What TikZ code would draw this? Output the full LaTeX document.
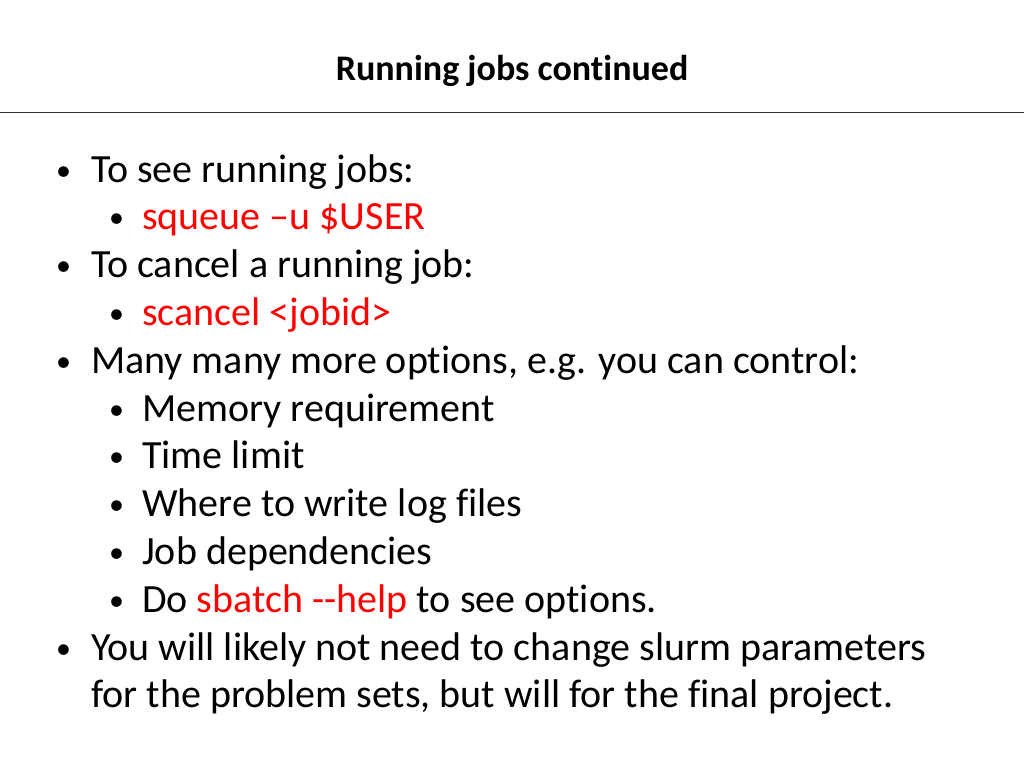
\documentclass[tikz,border=0pt]{standalone}
\usepackage{fontspec}
\setmainfont{Carlito}[Ligatures=NoCommon]
\definecolor{cmdred}{RGB}{255,0,0}
\tikzstyle{title}=[anchor=base,inner sep=0pt,font=\fontsize{36}{40}\selectfont\bfseries]
\tikzstyle{item} = [anchor=base west,inner sep=0pt,font=\fontsize{40}{46}\selectfont]
\tikzstyle{dot} = [anchor=base west,inner sep=0pt,font=\fontsize{30}{34}\selectfont]
\tikzstyle{cmd} = [item,text=cmdred]
\begin{document}
\begin{tikzpicture}[x=1pt,y=-1pt]
        \useasboundingbox (0,0) rectangle (1024,768);
        \node[title] (head) at (512, 80) {Running jobs continued};
        \draw[black!80,line width=0.8pt] (0,112) -- (1024,112);
        \node[dot] (b1) at (56, 180) {\textbullet};
        \node[item] (t1) at (91, 182) {To see running jobs:};
        \node[dot] (b2) at (109, 227) {\textbullet};
        \node[cmd] (t2) at (142, 229) {squeue –u \$USER};
        \node[dot] (b3) at (56, 275) {\textbullet};
        \node[item] (t3) at (91, 277) {To cancel a running job:};
        \node[dot] (b4) at (109, 323) {\textbullet};
        \node[cmd] (t4) at (142, 325) {scancel <jobid>};
        \node[dot] (b5) at (56, 371) {\textbullet};
        \node[item] (t5) at (91, 373) {Many many more options, e.g. you can control:};
        \node[dot] (b6) at (109, 419) {\textbullet};
        \node[item] (t6) at (142, 421) {Memory requirement};
        \node[dot] (b7) at (109, 466) {\textbullet};
        \node[item] (t7) at (142, 468) {Time limit};
        \node[dot] (b8) at (109, 514) {\textbullet};
        \node[item] (t8) at (142, 516) {Where to write log files};
        \node[dot] (b9) at (109, 562) {\textbullet};
        \node[item] (t9) at (142, 564) {Job dependencies};
        \node[dot] (b10) at (109, 610) {\textbullet};
        \node[item] (t10) at (142, 612) {Do \textcolor{cmdred}{sbatch -{}-help} to see options.};
        \node[dot] (b11) at (56, 658) {\textbullet};
        \node[item] (t11) at (91, 660) {You will likely not need to change slurm parameters};
        \node[item] (t12) at (91, 707) {for the problem sets, but will for the final project.};
    \end{tikzpicture}
\end{document}
